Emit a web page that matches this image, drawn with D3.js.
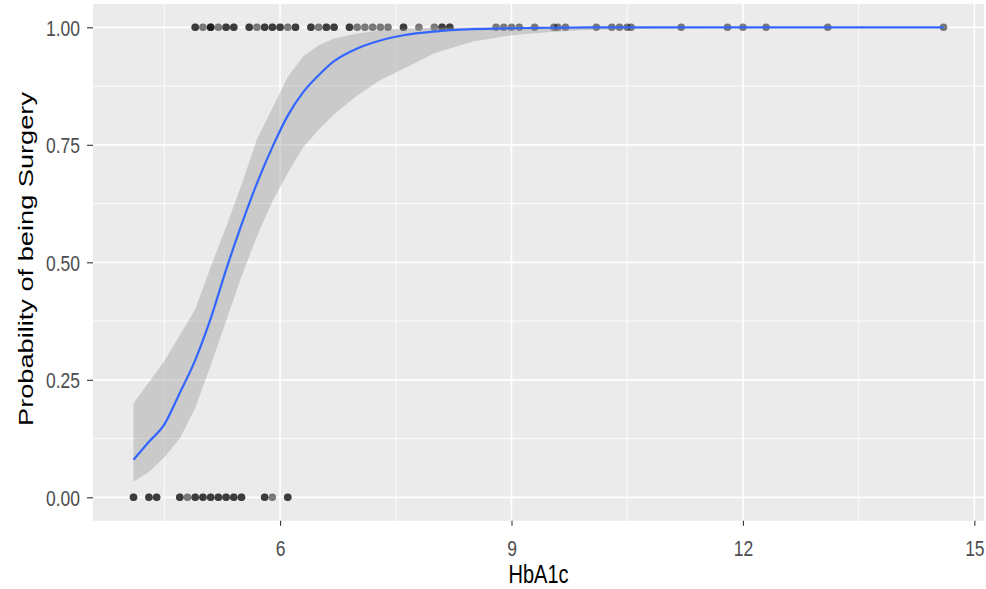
<!DOCTYPE html>
<html>
<head>
<meta charset="utf-8">
<script src="https://cdn.jsdelivr.net/npm/d3@7/dist/d3.min.js"></script>
<style>
  html, body { margin: 0; padding: 0; background: #ffffff; }
  svg { display: block; }
  text { font-family: "Liberation Sans", Arial, sans-serif; }
</style>
</head>
<body>
<svg id="chart" width="986" height="589"></svg>
<script>
// ---- data ----
// HbA1c values of patients with surgery (outcome = 1)
const surgeryX = [4.9,4.9,5.0,5.1,5.1,5.1,5.2,5.3,5.3,5.4,5.4,5.6,5.6,5.7,5.8,5.8,5.9,5.9,6.0,6.0,6.1,6.2,6.2,
  6.4,6.4,6.5,6.6,6.6,6.7,6.7,6.9,6.9,7.0,7.1,7.2,7.3,7.4,7.6,7.6,7.8,8.0,8.1,8.1,8.2,8.2,
  8.8,8.9,9.0,9.1,9.3,9.55,9.6,9.7,10.1,10.3,10.4,10.5,10.55,11.2,11.8,12.0,12.3,13.1,14.6];
// HbA1c values of patients without surgery (outcome = 0)
const noSurgeryX = [4.1,4.1,4.3,4.3,4.4,4.4,4.7,4.7,4.8,4.9,4.9,5.0,5.0,5.1,5.1,5.2,5.2,5.3,5.3,5.4,5.4,
  5.5,5.5,5.8,5.8,5.9,6.1,6.1];
// fitted logistic curve with confidence band
const fitX  = [4.1, 4.3, 4.5, 4.7, 4.9, 5.1, 5.3, 5.5, 5.7, 5.9, 6.1, 6.3, 6.5, 6.7, 7.0, 7.3, 7.6, 8.0, 8.5, 9.0, 9.5, 10.0, 11.0, 12.0, 14.6];
const fitY  = [0.080,0.118,0.155,0.222,0.292,0.380,0.484,0.580,0.668,0.745,0.812,0.862,0.898,0.928,0.955,0.972,0.983,0.991,0.996,0.998,0.999,1.000,1.000,1.000,1.000];
const fitHi = [0.200,0.245,0.290,0.345,0.400,0.490,0.575,0.665,0.762,0.828,0.895,0.938,0.962,0.976,0.987,0.993,0.997,0.999,1.000,1.000,1.000,1.000,1.000,1.000,1.000];
const fitLo = [0.033,0.054,0.085,0.125,0.190,0.280,0.375,0.470,0.555,0.630,0.690,0.745,0.782,0.815,0.855,0.888,0.912,0.945,0.970,0.983,0.990,0.994,0.998,0.999,1.000];
const xTicks = [6, 9, 12, 15];
const xMinor = [4.5, 7.5, 10.5, 13.5];
const yTicks = [0, 0.25, 0.5, 0.75, 1];
const yMinor = [0.125, 0.375, 0.625, 0.875];
const xTitle = "HbA1c";
const yTitle = "Probability of being Surgery";

// ---- layout ----
const panel = { left: 93, right: 984, top: 3.8, bottom: 520.8 };
const vStretch = 1.28;   // the reference is stretched vertically
const svg = d3.select("#chart");

const allX = surgeryX.concat(noSurgeryX);
const [xmin, xmax] = d3.extent(allX);
const xpad = (xmax - xmin) * 0.05;
const x = d3.scaleLinear().domain([xmin - xpad, xmax + xpad]).range([panel.left, panel.right]);
const y = d3.scaleLinear().domain([-0.05, 1.05]).range([panel.bottom, panel.top]);

// panel background
svg.append("rect")
  .attr("x", panel.left).attr("y", panel.top)
  .attr("width", panel.right - panel.left).attr("height", panel.bottom - panel.top)
  .attr("fill", "#EBEBEB");

const grid = svg.append("g");
grid.selectAll("line.vminor").data(xMinor).enter().append("line")
  .attr("x1", d => x(d)).attr("x2", d => x(d)).attr("y1", panel.top).attr("y2", panel.bottom)
  .attr("stroke", "#fff").attr("stroke-width", 0.8);
grid.selectAll("line.hminor").data(yMinor).enter().append("line")
  .attr("y1", d => y(d)).attr("y2", d => y(d)).attr("x1", panel.left).attr("x2", panel.right)
  .attr("stroke", "#fff").attr("stroke-width", 0.9);
grid.selectAll("line.vmajor").data(xTicks).enter().append("line")
  .attr("x1", d => x(d)).attr("x2", d => x(d)).attr("y1", panel.top).attr("y2", panel.bottom)
  .attr("stroke", "#fff").attr("stroke-width", 1.6);
grid.selectAll("line.hmajor").data(yTicks).enter().append("line")
  .attr("y1", d => y(d)).attr("y2", d => y(d)).attr("x1", panel.left).attr("x2", panel.right)
  .attr("stroke", "#fff").attr("stroke-width", 1.8);

// points
const pts = surgeryX.map(v => ({ x: v, y: 1 })).concat(noSurgeryX.map(v => ({ x: v, y: 0 })));
svg.append("g").selectAll("circle").data(pts).enter().append("circle")
  .attr("cx", d => x(d.x)).attr("cy", d => y(d.y)).attr("r", 3.8)
  .attr("fill", "#000").attr("fill-opacity", 0.5);

// ribbon
const fit = fitX.map((v, i) => ({ x: v, y: fitY[i], lo: fitLo[i], hi: fitHi[i] }));
svg.append("path").datum(fit)
  .attr("d", d3.area().x(d => x(d.x)).y0(d => y(d.lo)).y1(d => y(d.hi)))
  .attr("fill", "#999999").attr("fill-opacity", 0.4);
// fitted line
svg.append("path").datum(fit)
  .attr("d", d3.line().x(d => x(d.x)).y(d => y(d.y)).curve(d3.curveMonotoneX))
  .attr("fill", "none").attr("stroke", "#3366FF").attr("stroke-width", 2.2);

// axes
const tickFont = 17.5;
const xAxis = svg.append("g").attr("transform", `translate(0,${panel.bottom})`)
  .call(d3.axisBottom(x).tickValues(xTicks).tickFormat(d3.format("d")).tickSize(5));
const yAxis = svg.append("g").attr("transform", `translate(${panel.left},0)`)
  .call(d3.axisLeft(y).tickValues(yTicks).tickFormat(d3.format(".2f")).tickSize(6));
[xAxis, yAxis].forEach(a => {
  a.select(".domain").remove();
  a.selectAll(".tick line").attr("stroke", "#333333").attr("stroke-width", 1.1);
  a.selectAll(".tick text").attr("fill", "#4D4D4D").style("font-size", tickFont + "px")
    .style("font-family", "'Liberation Sans', Arial, sans-serif")
    .attr("x", 0).attr("y", 0).attr("dy", 0);
});
xAxis.selectAll(".tick text").attr("transform", `translate(0,35.5) scale(1,${vStretch})`);
yAxis.selectAll(".tick text").attr("transform", `translate(-13,${0.716 * tickFont * vStretch / 2}) scale(1,${vStretch})`);

// titles
svg.append("text").attr("transform", `translate(${(panel.left + panel.right) / 2},583) scale(1,${vStretch})`)
  .attr("text-anchor", "middle").attr("fill", "#000").style("font-size", "20px").text(xTitle);
svg.append("text").attr("transform", `translate(33,259) rotate(-90) scale(1.36,1)`)
  .attr("text-anchor", "middle").attr("fill", "#000").style("font-size", "20px").text(yTitle);
</script>
</body>
</html>
